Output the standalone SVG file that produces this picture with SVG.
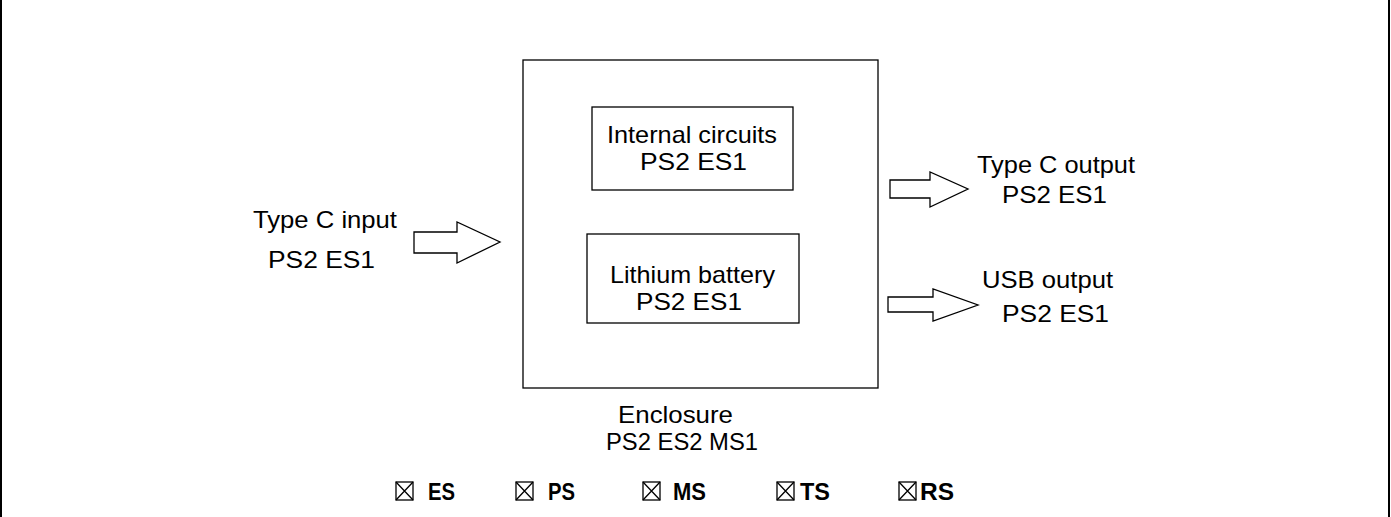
<svg xmlns="http://www.w3.org/2000/svg" width="1391" height="517" viewBox="0 0 1391 517">
<style>
.t{font-family:"Liberation Sans",Arial,sans-serif;font-size:24px;fill:#000}
.b{font-family:"Liberation Sans",Arial,sans-serif;font-size:23px;font-weight:bold;fill:#000}
.box{fill:none;stroke:#000;stroke-width:1.3}
.arr{fill:#fff;stroke:#000;stroke-width:1.3;stroke-linejoin:miter}
.cb{fill:none;stroke:#000;stroke-width:1.3}
</style>
<rect width="1391" height="517" fill="#fff"/>
<line x1="1" y1="0" x2="1" y2="517" stroke="#000" stroke-width="2"/>
<line x1="1389" y1="0" x2="1389" y2="517" stroke="#000" stroke-width="2"/>
<g id="enclosure">
<rect class="box" x="523" y="60" width="355" height="328"/>
<text class="t" x="618" y="423" textLength="115" lengthAdjust="spacingAndGlyphs">Enclosure</text>
<text class="t" x="606" y="450" textLength="152" lengthAdjust="spacingAndGlyphs">PS2 ES2 MS1</text>
</g>
<g id="internal-circuits">
<rect class="box" x="592" y="107" width="201" height="83"/>
<text class="t" x="607" y="143" textLength="170" lengthAdjust="spacingAndGlyphs">Internal circuits</text>
<text class="t" x="640" y="170" textLength="107" lengthAdjust="spacingAndGlyphs">PS2 ES1</text>
</g>
<g id="lithium-battery">
<rect class="box" x="587" y="234" width="212" height="89"/>
<text class="t" x="610" y="283" textLength="165" lengthAdjust="spacingAndGlyphs">Lithium battery</text>
<text class="t" x="636" y="310" textLength="106" lengthAdjust="spacingAndGlyphs">PS2 ES1</text>
</g>
<g id="type-c-input">
<text class="t" x="253" y="228" textLength="144" lengthAdjust="spacingAndGlyphs">Type C input</text>
<text class="t" x="268" y="268" textLength="107" lengthAdjust="spacingAndGlyphs">PS2 ES1</text>
</g>
<g id="type-c-output">
<text class="t" x="977" y="173" textLength="158" lengthAdjust="spacingAndGlyphs">Type C output</text>
<text class="t" x="1002" y="203" textLength="105" lengthAdjust="spacingAndGlyphs">PS2 ES1</text>
</g>
<g id="usb-output">
<text class="t" x="982" y="288" textLength="131" lengthAdjust="spacingAndGlyphs">USB output</text>
<text class="t" x="1002" y="322" textLength="107" lengthAdjust="spacingAndGlyphs">PS2 ES1</text>
</g>
<g id="connectors">
<polygon class="arr" points="414,232 457,232 457,222 500,242 457,263 457,253 414,253"/>
<polygon class="arr" points="890,180 930,180 930,172 968,189 930,207 930,198 890,198"/>
<polygon class="arr" points="888,297 933,297 933,289 978,305 933,321 933,312 888,312"/>
</g>
<g id="legend">
<g class="cb">
<rect x="396" y="482" width="17" height="18"/><path d="M396,482L413,500M413,482L396,500"/>
<rect x="516" y="482" width="17" height="18"/><path d="M516,482L533,500M533,482L516,500"/>
<rect x="643" y="482" width="17" height="18"/><path d="M643,482L660,500M660,482L643,500"/>
<rect x="777" y="482" width="17" height="18"/><path d="M777,482L794,500M794,482L777,500"/>
<rect x="899" y="482" width="17" height="18"/><path d="M899,482L916,500M916,482L899,500"/>
</g>
<text class="b" x="428" y="500" textLength="27" lengthAdjust="spacingAndGlyphs">ES</text>
<text class="b" x="548" y="500" textLength="27" lengthAdjust="spacingAndGlyphs">PS</text>
<text class="b" x="673" y="500" textLength="33" lengthAdjust="spacingAndGlyphs">MS</text>
<text class="b" x="800" y="500" textLength="30" lengthAdjust="spacingAndGlyphs">TS</text>
<text class="b" x="920" y="500" textLength="34" lengthAdjust="spacingAndGlyphs">RS</text>
</g>
</svg>
